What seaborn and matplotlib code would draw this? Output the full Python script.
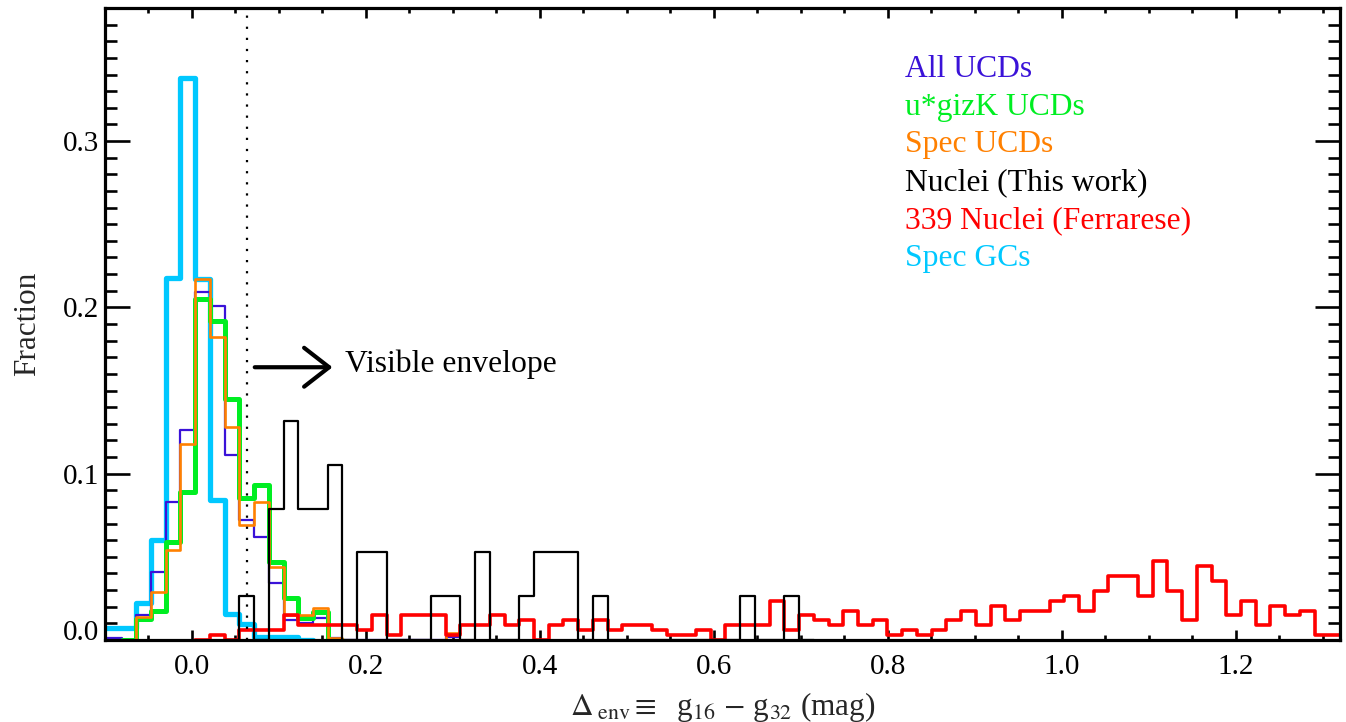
import numpy as np
import pandas as pd
import matplotlib
matplotlib.use("Agg")
import matplotlib.pyplot as plt
from matplotlib.ticker import MultipleLocator, FormatStrFormatter
import seaborn as sns

# ---------------------------------------------------------------
# Common binning in Delta_env = g16 - g32 (mag)
# ---------------------------------------------------------------
BIN_WIDTH = 0.016937
FIRST_EDGE = -0.0979

# Fractions per bin; *_start is the index of the first bin of each series
all_ucd_start = 0
all_ucd = [0.0012, 0.0, 0.015, 0.041, 0.083, 0.126, 0.209, 0.201, 0.111,
           0.072, 0.062, 0.034, 0.012, 0.010, 0.013, 0.0013,
           0.0, 0.0, 0.0, 0.0, 0.0, 0.0, 0.0, 0.0015]

ugizk_ucd_start = 1
ugizk_ucd = [0.0, 0.0126, 0.0176, 0.0588, 0.089, 0.205, 0.192, 0.145,
             0.0855, 0.093, 0.047, 0.025, 0.013, 0.017, 0.0]

spec_ucd_start = 1
spec_ucd = [0.0, 0.014, 0.029, 0.054, 0.118, 0.217, 0.182, 0.128, 0.069,
            0.083, 0.044, 0.015, 0.015, 0.019, 0.001,
            0.0, 0.0, 0.0, 0.0, 0.0, 0.0, 0.0, 0.004]

spec_gc_start = 0
spec_gc = [0.0075, 0.0075, 0.022, 0.060, 0.2175, 0.338, 0.217, 0.084,
           0.0155, 0.0095, 0.002, 0.002, 0.002, 0.0]

# Nuclei from this work: counts per bin (38 objects)
nuclei_total = 38
nuclei_start = 8
nuclei_counts = [0, 1, 0, 3, 5, 3, 3, 4, 0, 2, 2, 0, 0, 0, 1, 1, 0, 2, 0, 0,
                 1, 2, 2, 2, 0, 1, 0, 0, 0, 0, 0, 0, 0, 0, 0, 1, 0, 0, 1, 0]

# Ferrarese nuclei: counts per bin (339 objects)
ferrarese_total = 339
ferrarese_start = 6
ferrarese_counts = [0, 1, 0, 2, 2, 2, 5, 3, 3, 3, 3, 2, 5, 1, 5, 5, 5, 1,
                    3, 3, 5, 3, 4, 0, 3, 4, 2, 4, 2, 3, 3, 2, 1, 1, 2, 0,
                    3, 3, 3, 8, 2, 5, 4, 3, 6, 3, 4, 1, 2, 1, 2, 4, 6, 3,
                    7, 4, 6, 6, 8, 9, 6, 10, 13, 13, 9, 16, 10, 4, 15, 12,
                    5, 8, 3, 7, 5, 6, 1, 1]

legend_labels = ["All UCDs", "u*gizK UCDs", "Spec UCDs",
                 "Nuclei (This work)", "339 Nuclei (Ferrarese)", "Spec GCs"]

envelope_limit = 0.063

x_ticks = [0.0, 0.2, 0.4, 0.6, 0.8, 1.0, 1.2]
y_ticks = [0.0, 0.1, 0.2, 0.3]

# ---------------------------------------------------------------
sns.set_theme(style="ticks")
plt.rcParams["font.family"] = ["Liberation Serif", "DejaVu Serif"]
plt.rcParams["mathtext.fontset"] = "stix"

C_BLUE = "#3a12d8"
C_GREEN = "#00ee22"
C_ORANGE = "#ff8000"
C_BLACK = "#000000"
C_RED = "#ff0000"
C_CYAN = "#00c8ff"

fig = plt.figure(figsize=(13.46, 7.22), dpi=100)
ax = fig.add_axes([0.078, 0.1136, 0.9175, 0.8753])


def draw_hist(values, start, color, lw, z, total=1.0):
    vals = np.asarray(values, dtype=float) / total
    edges = FIRST_EDGE + BIN_WIDTH * np.arange(start, start + len(vals) + 1)
    df = pd.DataFrame({"delta": 0.5 * (edges[:-1] + edges[1:]), "frac": vals})
    sns.histplot(data=df, x="delta", weights="frac", bins=edges.tolist(),
                 element="step", fill=False, color=color, linewidth=lw,
                 ax=ax, zorder=z)


draw_hist(spec_gc, spec_gc_start, C_CYAN, 3.8, 2)
draw_hist(all_ucd, all_ucd_start, C_BLUE, 1.6, 3)
draw_hist(ugizk_ucd, ugizk_ucd_start, C_GREEN, 3.6, 4)
draw_hist(spec_ucd, spec_ucd_start, C_ORANGE, 1.9, 5)
draw_hist(ferrarese_counts, ferrarese_start, C_RED, 2.6, 6, ferrarese_total)
draw_hist(nuclei_counts, nuclei_start, C_BLACK, 1.6, 7, nuclei_total)

# envelope threshold
ax.axvline(envelope_limit, color="black", lw=1.6, ls=(0, (1, 4)), zorder=8)
ax.annotate("", xy=(0.1616, 0.164), xytext=(0.0722, 0.164),
            arrowprops=dict(arrowstyle="->,head_length=0.9,head_width=0.7",
                            lw=3.0, color="black", mutation_scale=20,
                            shrinkA=0, shrinkB=0), zorder=8)
ax.text(0.1765, 0.161, "Visible envelope", fontsize=22.8, ha="left",
        va="baseline", color="black")

# colour-coded legend
legend_colors = [C_BLUE, C_GREEN, C_ORANGE, C_BLACK, C_RED, C_CYAN]
for k, (lab, col) in enumerate(zip(legend_labels, legend_colors)):
    ax.text(0.648, 0.8908 - 0.0597 * k, lab, color=col, fontsize=22.8,
            ha="left", va="baseline", transform=ax.transAxes)

# axes
ax.set_xlim(-0.1, 1.32)
ax.set_ylim(0.0, 0.38)
ax.set_xticks(x_ticks)
ax.set_yticks(y_ticks)
ax.xaxis.set_minor_locator(MultipleLocator(0.05))
ax.yaxis.set_minor_locator(MultipleLocator(0.01))
ax.xaxis.set_major_formatter(FormatStrFormatter("%.1f"))
ax.yaxis.set_major_formatter(FormatStrFormatter("%.1f"))

ax.tick_params(axis="both", which="both", direction="in", top=True,
               right=True, labelsize=21, width=1.9, colors="black")
ax.tick_params(axis="x", which="major", length=7.5, pad=10)
ax.tick_params(axis="x", which="minor", length=3.6)
ax.tick_params(axis="y", which="major", length=18, pad=4)
ax.tick_params(axis="y", which="minor", length=8.6)

for sp in ax.spines.values():
    sp.set_linewidth(2.3)
    sp.set_color("black")
    sp.set_zorder(10)

ax.set_xlabel(r"$\Delta_{\;\mathrm{env}}\equiv$  g$_{16}$ $-$ g$_{32}$ (mag)",
              fontsize=22.5, va="center")
ax.xaxis.set_label_coords(0.5, -0.106)
ax.set_ylabel("Fraction", fontsize=22.5, va="center")
ax.yaxis.set_label_coords(-0.063, 0.5)

# lift the zero label off the bottom axis
ax.yaxis.get_major_ticks()[0].label1.set_va("baseline")

fig.savefig("out.png", dpi=100)
